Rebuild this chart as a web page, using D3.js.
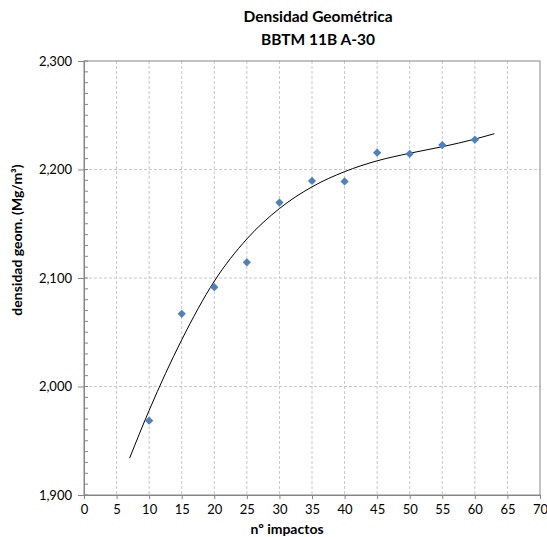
<!DOCTYPE html>
<html>
<head>
<meta charset="utf-8">
<script src="https://cdn.jsdelivr.net/npm/d3@7"></script>
<style>
  body { margin: 0; background: #fff; }
  text { font-family: Lato, "Open Sans", sans-serif; fill: #000; }
</style>
</head>
<body>
<div id="chart"></div>
<script>
// measured points (nº impactos, densidad)
var impactos = [10, 15, 20, 25, 30, 35, 40, 45, 50, 55, 60];
var densidad = [1968.5, 2067, 2091.5, 2114.5, 2169.5, 2189.5, 2189, 2215.5, 2214.5, 2222.5, 2227.5];

// trend line
var trendX = [7, 10, 15, 20, 25, 30, 35, 40, 45, 50, 55, 60, 63];
var trendY = [1934, 1978, 2043, 2097, 2136, 2164, 2184, 2198, 2208, 2215, 2221, 2228, 2233];

var xTicks = d3.range(0, 71, 5);
var yTicks = [1900, 2000, 2100, 2200, 2300];
var yMinor = d3.range(1900, 2301, 10);

var width = 547, height = 537;
var margin = { top: 61, right: 7, bottom: 42, left: 84 };
var innerW = width - margin.left - margin.right;
var innerH = height - margin.top - margin.bottom;

var fmt = d3.format(",.0f");

var svg = d3.select("#chart")
  .append("svg")
  .attr("width", width)
  .attr("height", height);

// titles
svg.append("text")
  .attr("x", 318).attr("y", 22)
  .style("text-anchor", "middle").style("font-weight", "bold").style("font-size", "15.5px")
  .text("Densidad Geométrica");
svg.append("text")
  .attr("x", 318).attr("y", 45)
  .style("text-anchor", "middle").style("font-weight", "bold").style("font-size", "15.5px")
  .text("BBTM 11B A-30");

var g = svg.append("g")
  .attr("transform", "translate(" + margin.left + "," + margin.top + ")");

var x = d3.scaleLinear().domain([0, 70]).range([0, innerW]);
var y = d3.scaleLinear().domain([1900, 2300]).range([innerH, 0]);

// gridlines
g.selectAll(".vgrid")
  .data(xTicks.slice(1, -1))
  .enter().append("line")
  .attr("x1", d => x(d)).attr("x2", d => x(d))
  .attr("y1", 0).attr("y2", innerH)
  .attr("stroke", "#c8c8c8").attr("stroke-dasharray", "3,2").attr("stroke-width", 1);

g.selectAll(".hgrid")
  .data(yTicks.slice(1, -1))
  .enter().append("line")
  .attr("x1", 0).attr("x2", innerW)
  .attr("y1", d => y(d)).attr("y2", d => y(d))
  .attr("stroke", "#c8c8c8").attr("stroke-dasharray", "3,2").attr("stroke-width", 1);

// frame
g.append("rect")
  .attr("width", innerW).attr("height", innerH)
  .attr("fill", "none").attr("stroke", "#868686").attr("stroke-width", 1);

// y minor ticks (inside)
g.selectAll(".yminor")
  .data(yMinor)
  .enter().append("line")
  .attr("x1", 0).attr("x2", 4)
  .attr("y1", d => y(d)).attr("y2", d => y(d))
  .attr("stroke", "#868686");

// axes
var xAxis = g.append("g")
  .attr("transform", "translate(0," + innerH + ")")
  .call(d3.axisBottom(x).tickValues(xTicks).tickSize(4).tickPadding(6));
var yAxis = g.append("g")
  .call(d3.axisLeft(y).tickValues(yTicks).tickFormat(fmt).tickSize(6).tickPadding(6));

[xAxis, yAxis].forEach(function (a) {
  a.select(".domain").attr("stroke", "#868686");
  a.selectAll(".tick line").attr("stroke", "#868686");
  a.selectAll(".tick text").style("font-size", "13px").style("font-family", "Lato, 'Open Sans', sans-serif").attr("fill", "#000");
});

// axis titles
svg.append("text")
  .attr("x", 287).attr("y", 534)
  .style("text-anchor", "middle").style("font-weight", "bold").style("font-size", "14px")
  .text("nº impactos");
svg.append("text")
  .attr("transform", "translate(22,240) rotate(-90)")
  .style("text-anchor", "middle").style("font-weight", "bold").style("font-size", "14px")
  .text("densidad geom. (Mg/m³)");

// trend line
var line = d3.line()
  .x(d => x(d[0]))
  .y(d => y(d[1]))
  .curve(d3.curveMonotoneX);

g.append("path")
  .datum(d3.zip(trendX, trendY))
  .attr("d", line)
  .attr("fill", "none")
  .attr("stroke", "#000")
  .attr("stroke-width", 1);

// points
var sym = d3.symbol().type(d3.symbolSquare).size(34);
g.selectAll(".pt")
  .data(d3.zip(impactos, densidad))
  .enter().append("path")
  .attr("d", sym)
  .attr("transform", d => "translate(" + x(d[0]) + "," + y(d[1]) + ") rotate(45)")
  .attr("fill", "#4f81bd");
</script>
</body>
</html>
